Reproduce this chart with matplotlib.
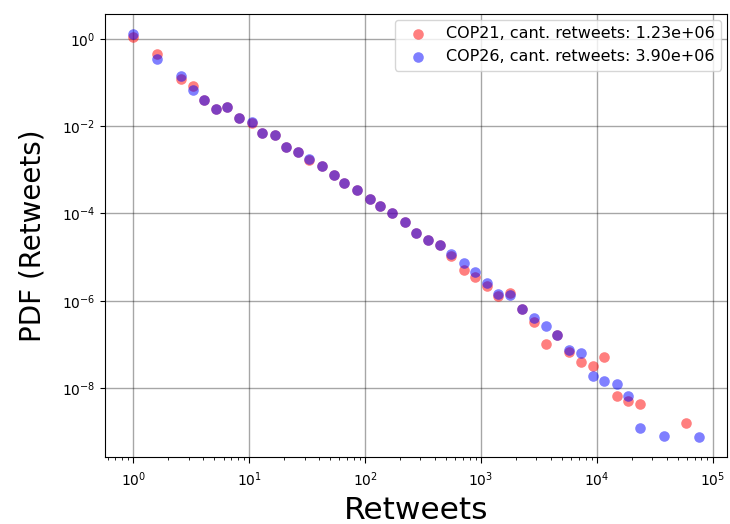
import matplotlib
matplotlib.use("Agg")
import matplotlib.pyplot as plt

# shared bin centres (retweet counts)
x_common = [1, 1.585, 2.57, 3.24, 4.07, 5.13, 6.46, 8.13, 10.5, 12.9, 16.6, 20.9,
            26.3, 33.1, 42.7, 53.7, 66.1, 85.1, 109.6, 134.9, 169.8, 218.8, 275.4,
            346.7, 441.6, 549.5, 707.9, 881, 1122, 1413, 1778, 2239, 2884, 3631,
            4571, 5754, 7244, 9333, 11482, 14791, 18621, 23442]

cop21_x = x_common + [58884]
cop21_y = [1.11, 0.462, 0.120, 0.085, 0.040, 0.025, 0.028, 0.0155, 0.0117, 0.0069,
           0.0062, 0.0034, 0.0026, 0.00165, 0.0012, 7.6e-4, 5.0e-4, 3.4e-4, 2.1e-4,
           1.45e-4, 1.0e-4, 6.3e-5, 3.6e-5, 2.45e-5, 1.86e-5, 1.05e-5, 5.0e-6,
           3.55e-6, 2.2e-6, 1.3e-6, 1.5e-6, 6.6e-7, 3.3e-7, 1.0e-7, 1.65e-7, 6.8e-8,
           3.9e-8, 3.2e-8, 5.1e-8, 6.5e-9, 5.0e-9, 4.2e-9, 1.6e-9]

cop26_x = x_common + [38019, 75858]
cop26_y = [1.28, 0.355, 0.138, 0.069, 0.040, 0.025, 0.028, 0.0155, 0.0126, 0.0069,
           0.0062, 0.0034, 0.0026, 0.00178, 0.0012, 7.6e-4, 5.0e-4, 3.4e-4, 2.1e-4,
           1.45e-4, 1.0e-4, 6.3e-5, 3.6e-5, 2.45e-5, 1.86e-5, 1.17e-5, 7.4e-6,
           4.6e-6, 2.6e-6, 1.45e-6, 1.32e-6, 6.6e-7, 4.0e-7, 2.6e-7, 1.65e-7, 7.6e-8,
           6.3e-8, 1.9e-8, 1.48e-8, 1.23e-8, 6.5e-9, 1.23e-9, 7.9e-10, 7.6e-10]

labels = ["COP21, cant. retweets: 1.23e+06", "COP26, cant. retweets: 3.90e+06"]

fig = plt.figure(figsize=(7.30, 5.24), dpi=100)
ax = fig.add_axes([0.144, 0.128, 0.852, 0.845])
ax.scatter(cop21_x, cop21_y, s=58, color="red", alpha=0.5, linewidths=0, label=labels[0])
ax.scatter(cop26_x, cop26_y, s=58, color="blue", alpha=0.5, linewidths=0, label=labels[1])
ax.set_xscale("log")
ax.set_yscale("log")
ax.grid(True, which="major", color="black", alpha=0.35, linewidth=1)
ax.set_axisbelow(True)
ax.tick_params(axis="x", which="major", length=4.5, pad=5.5)
ax.set_xlabel("Retweets", fontsize=22.5, labelpad=5)
ax.set_ylabel("PDF (Retweets)", fontsize=20, labelpad=11)
ax.legend(loc="upper right", fontsize=11.5, borderaxespad=0.35)
fig.savefig("out.png", dpi=100)
